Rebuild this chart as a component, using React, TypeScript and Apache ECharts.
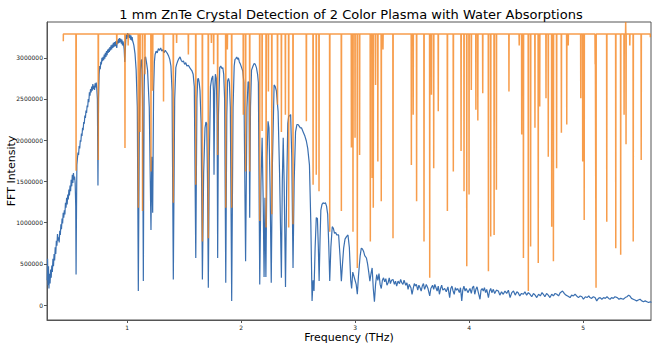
import React, { useEffect, useRef } from "react";
import * as echarts from "echarts";

const TITLE = "1 mm ZnTe Crystal Detection of 2 Color Plasma with Water Absorptions";
const X_NAME = "Frequency (THz)";
const Y_NAME = "FFT Intensity";
const X_TICKS = [1, 2, 3, 4, 5];
const Y_TICKS = [0, 500000, 1000000, 1500000, 2000000, 2500000, 3000000];
const X_MIN = 0.298;
const X_MAX = 5.596;
const Y_MIN = -182000;
const Y_MAX = 3434000;
const UNIT = 1000; // values below are in thousands

// FFT spectrum: [frequency THz, intensity (thousands)]
const blueSpectrum: [number, number][] = [
  [0.300,300],[0.303,560],[0.307,240],[0.311,470],[0.315,200],[0.320,380],[0.325,260],[0.330,430],[0.335,330],[0.340,480],
  [0.345,400],[0.350,560],[0.355,470],[0.360,620],[0.365,540],[0.370,700],[0.375,620],[0.380,780],[0.385,720],[0.390,860],
  [0.395,780],[0.400,820],[0.405,760],[0.410,900],[0.415,850],[0.420,980],[0.425,920],[0.430,1050],[0.435,990],[0.440,1120],
  [0.445,1060],[0.450,1150],[0.455,1100],[0.460,1240],[0.465,1180],[0.470,1300],[0.475,1220],[0.480,1340],[0.485,1280],[0.490,1400],
  [0.495,1330],[0.500,1450],[0.505,1380],[0.510,1520],[0.515,1440],[0.520,1580],[0.525,1480],[0.530,1600],[0.535,1520],[0.540,1560],
  [0.545,1480],[0.550,1200],[0.553,370],[0.557,1200],[0.560,1700],[0.565,1780],[0.570,1850],[0.575,1820],[0.580,1930],[0.585,1900],
  [0.590,2000],[0.595,1980],[0.600,2080],[0.605,2050],[0.610,2150],[0.615,2120],[0.620,2220],[0.625,2200],[0.630,2300],[0.635,2270],
  [0.640,2360],[0.645,2330],[0.650,2420],[0.655,2400],[0.660,2500],[0.665,2460],[0.670,2580],[0.675,2540],[0.680,2620],[0.685,2580],
  [0.690,2650],[0.695,2600],[0.700,2680],[0.705,2620],[0.710,2660],[0.715,2610],[0.720,2690],[0.725,2640],[0.730,2700],[0.735,2620],
  [0.740,2500],[0.745,1450],[0.750,2500],[0.755,2800],[0.760,2900],[0.765,2860],[0.770,2950],[0.775,2920],[0.780,3000],[0.785,2960],
  [0.790,3010],[0.795,2970],[0.800,3040],[0.805,2990],[0.810,3060],[0.815,3010],[0.820,3080],[0.825,3030],[0.830,3100],[0.835,3060],
  [0.840,3110],[0.845,3070],[0.850,3130],[0.855,3090],[0.860,3150],[0.865,3100],[0.870,3160],[0.875,3120],[0.880,3180],[0.885,3130],
  [0.890,3190],[0.895,3140],[0.900,3200],[0.905,3150],[0.910,3120],[0.915,3210],[0.920,3170],[0.925,3230],[0.930,3180],[0.935,3240],
  [0.940,3190],[0.945,3230],[0.950,3170],[0.955,3220],[0.960,3150],[0.965,3200],[0.970,3160],[0.975,3100],[0.980,2950],[0.985,3100],
  [0.990,3240],[0.995,3280],[1.000,3230],[1.005,3300],[1.010,3250],[1.015,3290],[1.020,3240],[1.025,3280],[1.030,3220],[1.035,3270],
  [1.040,3210],[1.045,3250],[1.050,3200],[1.055,3180],[1.060,3150],[1.070,3050],[1.080,2850],[1.090,2400],[1.099,170],[1.108,2200],
  [1.115,2800],[1.122,2960],[1.129,2980],[1.136,2500],[1.143,290],[1.150,2600],[1.156,3000],[1.163,3010],[1.170,2950],[1.180,2850],
  [1.195,2400],[1.210,910],[1.217,1800],[1.225,1120],[1.233,2600],[1.240,2950],[1.246,3040],[1.255,3080],[1.265,3060],[1.275,3110],
  [1.285,3090],[1.295,3120],[1.305,3080],[1.315,3100],[1.325,3060],[1.335,3090],[1.345,3070],[1.355,3050],[1.365,3020],[1.375,2980],
  [1.385,2900],[1.395,2600],[1.406,310],[1.418,2500],[1.428,2880],[1.435,2920],[1.445,2960],[1.455,2990],[1.465,3010],[1.475,2970],
  [1.485,2950],[1.495,2960],[1.505,2920],[1.515,2940],[1.525,2900],[1.538,2910],[1.550,2880],[1.560,2860],[1.570,2840],[1.580,2800],
  [1.590,2650],[1.603,570],[1.613,2500],[1.620,2740],[1.626,2750],[1.633,2700],[1.640,2600],[1.650,2200],[1.661,310],[1.672,1600],
  [1.684,2150],[1.692,2220],[1.699,2200],[1.706,1500],[1.713,210],[1.722,1800],[1.732,2650],[1.743,2750],[1.752,2780],[1.758,2600],
  [1.763,1580],[1.769,2600],[1.775,2800],[1.783,2750],[1.790,2300],[1.795,570],[1.802,2300],[1.813,2880],[1.822,2900],[1.832,2870],
  [1.840,2880],[1.848,2800],[1.856,2500],[1.866,270],[1.875,2300],[1.882,2720],[1.890,2750],[1.898,2700],[1.906,2400],[1.918,50],
  [1.930,2400],[1.940,2900],[1.947,2980],[1.955,2990],[1.962,3010],[1.970,2980],[1.977,3000],[1.985,2950],[1.995,2920],[2.005,2880],
  [2.015,2840],[2.025,2700],[2.040,530],[2.052,2400],[2.062,2710],[2.070,2700],[2.076,1060],[2.083,2400],[2.092,2850],[2.105,2900],
  [2.115,2930],[2.125,2920],[2.135,2880],[2.145,2800],[2.152,2700],[2.164,250],[2.175,1500],[2.185,2030],[2.195,1200],[2.202,340],
  [2.210,1300],[2.218,340],[2.228,1800],[2.237,2230],[2.245,2150],[2.255,1400],[2.265,270],[2.275,1700],[2.290,2670],[2.300,2650],
  [2.310,2600],[2.325,2350],[2.338,1600],[2.354,330],[2.362,1500],[2.370,2030],[2.378,1500],[2.390,220],[2.400,1400],[2.410,2200],
  [2.418,2290],[2.428,2300],[2.435,2310],[2.445,1800],[2.456,450],[2.466,1500],[2.478,2100],[2.490,2190],[2.500,2190],[2.510,2170],
  [2.520,2150],[2.530,2150],[2.545,2100],[2.560,2050],[2.573,1990],[2.585,1900],[2.600,1700],[2.612,1000],[2.623,50],[2.632,300],
  [2.640,170],[2.650,700],[2.660,1060],[2.670,1050],[2.678,700],[2.685,290],[2.693,800],[2.700,1150],[2.710,1220],[2.720,1240],
  [2.730,1230],[2.740,1240],[2.750,1200],[2.760,1100],[2.770,700],[2.778,290],[2.788,700],[2.800,950],[2.810,930],[2.820,870],
  [2.830,880],[2.840,850],[2.856,850],[2.868,600],[2.880,290],[2.890,500],[2.900,690],[2.912,800],[2.925,830],[2.938,850],
  [2.950,700],[2.962,300],[2.970,200],[2.980,400],[2.990,350],[3.000,300],[3.010,250],[3.020,130],[3.030,350],[3.045,600],
  [3.055,690],[3.065,680],[3.075,650],[3.085,600],[3.100,570],[3.110,500],[3.120,400],[3.130,290],[3.140,380],[3.150,450],
  [3.160,200],[3.170,40],[3.180,250],[3.190,370],[3.200,300],[3.210,380],[3.220,250],[3.230,200],[3.240,300],[3.250,330],
  [3.260,280],[3.270,320],[3.280,240],[3.290,270],[3.300,330],[3.310,260],[3.320,300],[3.333,310],[3.345,250],[3.355,290],
  [3.365,230],[3.377,290],[3.390,260],[3.400,310],[3.410,270],[3.420,250],[3.430,300],[3.445,240],[3.455,270],[3.465,190],
  [3.475,250],[3.490,210],[3.500,130],[3.510,200],[3.520,260],[3.530,230],[3.538,250],[3.550,180],[3.560,240],[3.570,210],
  [3.580,170],[3.590,230],[3.600,260],[3.610,190],[3.625,250],[3.640,200],[3.655,110],[3.665,200],[3.680,240],[3.690,190],
  [3.700,250],[3.710,210],[3.720,170],[3.730,230],[3.740,130],[3.750,200],[3.760,240],[3.770,180],[3.786,200],[3.800,160],
  [3.815,220],[3.830,90],[3.840,200],[3.850,230],[3.860,170],[3.870,130],[3.880,210],[3.890,180],[3.900,200],[3.915,150],
  [3.925,210],[3.936,50],[3.945,180],[3.955,230],[3.965,170],[3.975,200],[3.990,150],[4.008,200],[4.020,140],[4.030,210],
  [4.040,230],[4.050,130],[4.060,190],[4.070,220],[4.080,160],[4.096,70],[4.105,180],[4.115,200],[4.125,170],[4.135,210],
  [4.145,150],[4.155,190],[4.170,90],[4.180,170],[4.190,200],[4.200,150],[4.213,190],[4.225,140],[4.240,180],[4.257,170],
  [4.270,120],[4.285,160],[4.300,130],[4.315,170],[4.330,140],[4.345,180],[4.360,90],[4.375,150],[4.390,170],[4.405,120],
  [4.420,160],[4.430,150],[4.445,110],[4.460,140],[4.477,130],[4.490,160],[4.505,120],[4.520,150],[4.535,130],[4.550,100],
  [4.565,140],[4.580,120],[4.594,90],[4.610,130],[4.625,110],[4.640,150],[4.652,130],[4.665,100],[4.680,140],[4.695,120],
  [4.710,90],[4.725,130],[4.740,110],[4.755,140],[4.770,130],[4.785,110],[4.800,150],[4.820,170],[4.835,140],[4.850,120],
  [4.865,110],[4.886,90],[4.900,120],[4.915,110],[4.930,130],[4.944,110],[4.960,90],[4.975,110],[4.990,100],[5.003,70],
  [5.020,100],[5.035,90],[5.050,110],[5.060,90],[5.075,80],[5.090,100],[5.105,90],[5.120,50],[5.135,80],[5.150,90],
  [5.165,70],[5.180,90],[5.195,80],[5.210,100],[5.225,80],[5.237,70],[5.250,90],[5.265,80],[5.280,100],[5.300,90],
  [5.315,70],[5.330,80],[5.353,70],[5.370,90],[5.385,100],[5.400,120],[5.410,110],[5.425,80],[5.440,70],[5.455,60],
  [5.470,50],[5.485,60],[5.500,70],[5.515,50],[5.530,40],[5.545,50],[5.560,40],[5.575,30],[5.590,40],[5.600,30],
];

// Water absorption lines
const WATER_START: [number, number] = [0.441, 3200];
const WATER_END: [number, number] = [5.59, 3250];
const WATER_BASE = 3289; // thousands
const waterLineFreq = [
  0.553,0.748,0.91,0.982,1.01,1.099,1.114,1.136,1.157,1.21,1.225,1.32,1.406,1.435,1.538,1.603,1.661,1.713,1.74,1.76,
  1.795,1.866,1.88,1.918,2.02,2.04,2.076,2.164,2.185,2.22,2.24,2.27,2.32,2.354,2.389,2.418,2.456,2.573,2.632,2.66,
  2.684,2.778,2.88,2.968,2.982,3.0,3.02,3.04,3.134,3.15,3.16,3.18,3.2,3.23,3.245,3.333,3.494,3.51,3.54,3.605,
  3.655,3.67,3.69,3.73,3.81,3.862,3.93,3.956,3.98,4.0,4.02,4.06,4.077,4.12,4.17,4.19,4.22,4.24,4.35,4.44,
  4.462,4.477,4.52,4.54,4.578,4.607,4.62,4.675,4.695,4.725,4.74,4.768,4.81,4.857,4.87,4.98,4.997,5.01,5.106,5.114,
  5.208,5.287,5.33,5.36,5.374,5.377,5.41,5.44,5.51,
];
const waterLineLevel = [
  1630,1760,3160,1905,3150,1180,2100,1140,2800,1620,2600,2470,1240,3180,3040,1460,770,810,3180,2920,
  1820,1180,3100,1180,2310,1620,1620,1020,2110,940,2590,1100,2430,2100,2310,940,980,2230,1460,1580,
  1380,890,1140,1910,890,2030,450,1820,770,1540,1180,2670,1740,1260,3100,810,1700,2310,1260,770,
  330,2550,1660,2350,1140,1620,1870,1380,470,1340,2610,2370,2240,2570,410,830,850,1400,2590,3150,
  2070,570,170,710,2150,510,2410,2510,1800,950,530,1660,2090,2190,3150,2510,1740,1030,2920,210,
  1010,690,610,2310,3434,1950,3150,770,1760,
];
const LINE_HALF_WIDTH = 0.0015;

export default function App() {
  const ref = useRef<HTMLDivElement>(null);
  useEffect(() => {
    if (!ref.current) return;
    const chart = echarts.init(ref.current, undefined, { renderer: "svg" });

    const blueData = blueSpectrum.map(([f, v]) => [f, v * UNIT]);
    const waterData: number[][] = [
      [WATER_START[0], WATER_START[1] * UNIT],
      [WATER_START[0] + 0.0005, WATER_BASE * UNIT],
    ];
    waterLineFreq.forEach((f, i) => {
      waterData.push([f - LINE_HALF_WIDTH, WATER_BASE * UNIT]);
      waterData.push([f, waterLineLevel[i] * UNIT]);
      waterData.push([f + LINE_HALF_WIDTH, WATER_BASE * UNIT]);
    });
    waterData.push([WATER_END[0] - 0.0005, WATER_BASE * UNIT]);
    waterData.push([WATER_END[0], WATER_END[1] * UNIT]);

    const font = "DejaVu Sans";
    chart.setOption({
      animation: false,
      backgroundColor: "#ffffff",
      title: {
        text: TITLE,
        left: 346,
        top: 3,
        textAlign: "center",
        textStyle: { fontFamily: font, fontSize: 13, fontWeight: "normal", color: "#000" },
      },
      grid: {
        left: 47, right: 9, top: 22, bottom: 27,
        outerBoundsMode: "none",
        containLabel: false,
        show: true, borderColor: "#555", borderWidth: 1, backgroundColor: "transparent",
      },
      xAxis: {
        type: "value",
        min: X_MIN, max: X_MAX,
        name: X_NAME,
        nameLocation: "middle",
        nameGap: 12,
        nameMoveOverlap: false,
        nameTextStyle: { fontFamily: font, fontSize: 11, color: "#000", verticalAlign: "top" },
        axisLine: { show: true, onZero: false, lineStyle: { color: "#555", width: 1 } },
        axisTick: { show: true, length: 3, lineStyle: { color: "#555" }, customValues: X_TICKS },
        axisLabel: { fontFamily: font, fontSize: 6, color: "#222", margin: 4, customValues: X_TICKS, formatter: (v: number) => String(v) },
        splitLine: { show: false },
      },
      yAxis: {
        type: "value",
        min: Y_MIN, max: Y_MAX,
        name: Y_NAME,
        nameLocation: "middle",
        nameGap: 30,
        nameMoveOverlap: false,
        nameTextStyle: { fontFamily: font, fontSize: 11, color: "#000" },
        axisLine: { show: true, onZero: false, lineStyle: { color: "#555", width: 1 } },
        axisTick: { show: true, length: 3, lineStyle: { color: "#555" }, customValues: Y_TICKS },
        axisLabel: { fontFamily: font, fontSize: 6, color: "#222", margin: 4, customValues: Y_TICKS, formatter: (v: number) => String(v) },
        splitLine: { show: false },
      },
      series: [
        {
          type: "line",
          data: blueData,
          showSymbol: false,
          symbol: "none",
          lineStyle: { color: "#3a6fb0", width: 1.2 },
          z: 2,
          silent: true,
        },
        {
          type: "line",
          data: waterData,
          showSymbol: false,
          symbol: "none",
          lineStyle: { color: "#f5841f", width: 1.5, opacity: 0.8 },
          z: 3,
          silent: true,
        },
      ],
    });
    return () => chart.dispose();
  }, []);
  return <div ref={ref} style={{ position: "fixed", left: 0, top: 0, width: 660, height: 347 }} />;
}
